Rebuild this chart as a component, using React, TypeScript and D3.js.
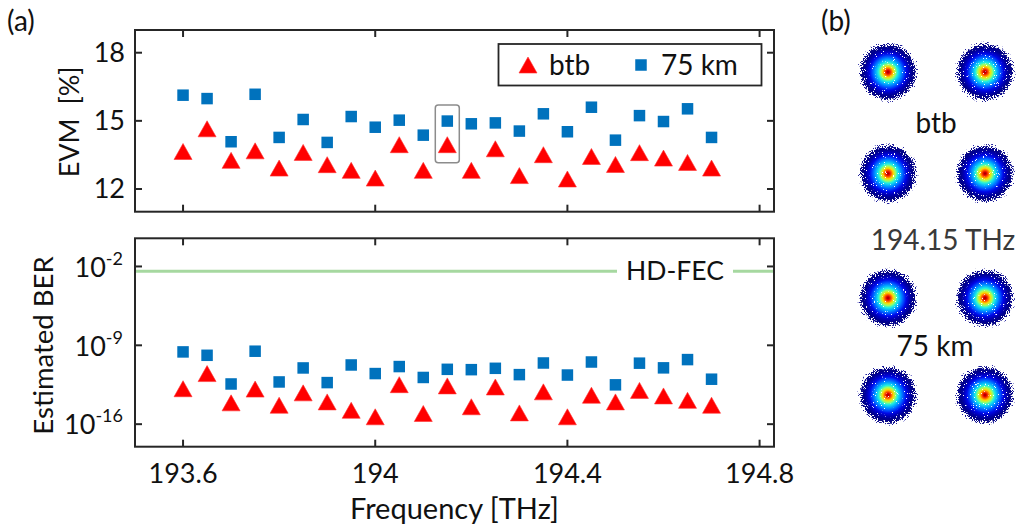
import React from "react";
import * as d3 from "d3";

// Channel frequencies [THz]
const freqs = [
  193.6, 193.65, 193.7, 193.75, 193.8, 193.85, 193.9, 193.95, 194.0, 194.05, 194.1, 194.15,
  194.2, 194.25, 194.3, 194.35, 194.4, 194.45, 194.5, 194.55, 194.6, 194.65, 194.7,
];

// EVM [%]
const evmBtb = [
  13.65, 14.65, 13.26, 13.68, 12.92, 13.61, 13.07, 12.82, 12.48, 13.95, 12.82, 13.95,
  12.82, 13.77, 12.59, 13.51, 12.44, 13.43, 13.08, 13.6, 13.36, 13.17, 12.92,
];
const evm75 = [
  16.13, 15.98, 14.08, 16.17, 14.27, 15.06, 14.05, 15.19, 14.72, 15.03, 14.37, 14.99,
  14.87, 14.91, 14.55, 15.31, 14.52, 15.6, 14.15, 15.23, 14.97, 15.53, 14.27,
];

// Estimated BER
const berBtb = [
  1.4e-13, 3.1e-12, 7.8e-15, 1.3e-13, 4.8e-15, 6.0e-14, 9.5e-15, 1.7e-15, 4.5e-16, 3.2e-13,
  8.9e-16, 2.5e-13, 3.5e-15, 2.0e-13, 1.0e-15, 7.4e-14, 4.5e-16, 3.7e-14, 9.5e-15, 1.0e-13,
  3.2e-14, 1.3e-14, 4.8e-15,
];
const ber75 = [
  2.6e-10, 1.3e-10, 3.7e-13, 3.0e-10, 5.6e-13, 9.8e-12, 4.9e-13, 1.8e-11, 3.1e-12, 1.3e-11,
  1.4e-12, 7.4e-12, 6.9e-12, 9.1e-12, 2.5e-12, 2.7e-11, 2.3e-12, 3.3e-11, 3.1e-13, 2.6e-11,
  1.0e-11, 5.4e-11, 9.8e-13,
];

const hdFec = 3.8e-3;
const highlightFreq = 194.15;

// Axis ticks
const xTicks = [193.6, 194.0, 194.4, 194.8];
const xTickLabels = ["193.6", "194", "194.4", "194.8"];
const evmTicks = [12, 15, 18];
const berTickExps = [-2, -9, -16];

// QPSK symbol positions (I, Q)
const qpsk: [number, number][] = [
  [-1, 1],
  [1, 1],
  [-1, -1],
  [1, -1],
];

const FONT = "Lato, 'Open Sans', sans-serif";
const RED = "#ff0000";
const BLUE = "#0072bd";
const AX = "#262626";
const TXT = "#111";

const x = d3.scaleLinear().domain([193.5, 194.83]).range([135, 774]);
const yEvm = d3.scaleLinear().domain([11, 19]).range([211.7, 30]);
const yBer = d3.scaleLog().domain([1e-18, Math.pow(10, 0.5)]).range([446.7, 238.3]);

const TICK = 7;

function Triangle({ cx, cy }: { cx: number; cy: number }) {
  const w = 18;
  const h = 16;
  return (
    <path
      d={`M${cx},${cy - h / 2} L${cx + w / 2},${cy + h / 2} L${cx - w / 2},${cy + h / 2} Z`}
      fill={RED}
      stroke="#ff3030"
      strokeWidth={0.6}
    />
  );
}

function Square({ cx, cy }: { cx: number; cy: number }) {
  const s = 11.5;
  return <rect x={cx - s / 2} y={cy - s / 2} width={s} height={s} fill={BLUE} />;
}

function Frame({ top, bottom, yTicks }: { top: number; bottom: number; yTicks: number[] }) {
  const [x0, x1] = x.range();
  return (
    <g stroke={AX} strokeWidth={2} fill="none">
      <rect x={x0} y={top} width={x1 - x0} height={bottom - top} />
      {xTicks.map((t) => (
        <g key={t}>
          <line x1={x(t)} x2={x(t)} y1={bottom} y2={bottom - TICK} />
          <line x1={x(t)} x2={x(t)} y1={top} y2={top + TICK} />
        </g>
      ))}
      {yTicks.map((yy, i) => (
        <g key={i}>
          <line x1={x0} x2={x0 + TICK} y1={yy} y2={yy} />
          <line x1={x1} x2={x1 - TICK} y1={yy} y2={yy} />
        </g>
      ))}
    </g>
  );
}

function Blob({ cx, cy }: { cx: number; cy: number }) {
  return <circle cx={cx} cy={cy} r={31} fill="url(#jet)" filter="url(#grain)" />;
}

export default function App() {
  const [x0, x1] = x.range();
  const evmTop = yEvm.range()[1];
  const evmBottom = yEvm.range()[0];
  const berTop = yBer.range()[1];
  const berBottom = yBer.range()[0];

  // Constellation placement for the two cases
  const ci = d3.scaleLinear().domain([-1, 1]).range([888, 985]);
  const cqBtb = d3.scaleLinear().domain([-1, 1]).range([173.5, 72]);
  const cq75 = d3.scaleLinear().domain([-1, 1]).range([395, 298]);

  const hlX = x(highlightFreq);
  const hlIdx = freqs.indexOf(highlightFreq);
  const fecY = yBer(hdFec);

  return (
    <svg
      width={1018}
      height={529}
      style={{ position: "absolute", left: 0, top: 0, background: "#fff" }}
      fontFamily={FONT}
    >
      <defs>
        <radialGradient id="jet" cx="50%" cy="50%" r="50%">
          <stop offset="0" stopColor="#900000" stopOpacity={1} />
          <stop offset="0.05" stopColor="#e00000" stopOpacity={1} />
          <stop offset="0.11" stopColor="#ff6000" stopOpacity={1} />
          <stop offset="0.17" stopColor="#ffd800" stopOpacity={1} />
          <stop offset="0.24" stopColor="#a0ff60" stopOpacity={1} />
          <stop offset="0.31" stopColor="#20f0e0" stopOpacity={1} />
          <stop offset="0.4" stopColor="#00a8ff" stopOpacity={1} />
          <stop offset="0.5" stopColor="#0050ff" stopOpacity={1} />
          <stop offset="0.59" stopColor="#0008e8" stopOpacity={1} />
          <stop offset="0.68" stopColor="#0000b8" stopOpacity={1} />
          <stop offset="0.78" stopColor="#00008c" stopOpacity={0.95} />
          <stop offset="0.87" stopColor="#080888" stopOpacity={0.6} />
          <stop offset="0.94" stopColor="#202098" stopOpacity={0.25} />
          <stop offset="1" stopColor="#3030b0" stopOpacity={0.03} />
        </radialGradient>
        <filter id="grain" x="-10%" y="-10%" width="120%" height="120%" colorInterpolationFilters="sRGB">
          <feTurbulence type="fractalNoise" baseFrequency="0.9" numOctaves={2} seed={7} result="noise" />
          <feColorMatrix
            in="noise"
            type="matrix"
            values="0 0 0 0 0  0 0 0 0 0  0 0 0 0 0  2.2 0 0 0 -0.6"
            result="na"
          />
          <feComposite in="SourceAlpha" in2="na" operator="arithmetic" k1={0} k2={10} k3={-10} k4={0} result="mask" />
          <feColorMatrix
            in="SourceGraphic"
            type="matrix"
            values="1 0 0 0 0  0 1 0 0 0  0 0 1 0 0  0 0 0 60 0"
            result="opaque"
          />
          <feComposite in="opaque" in2="mask" operator="in" />
        </filter>
      </defs>

      {/* Panel labels */}
      <text x={7} y={31} fontSize={28} fill={TXT}>(a)</text>
      <text x={821} y={31} fontSize={28} fill={TXT}>(b)</text>

      {/* ---------- EVM panel ---------- */}
      <Frame top={evmTop} bottom={evmBottom} yTicks={evmTicks.map((t) => yEvm(t))} />
      {evmTicks.map((t) => (
        <text key={t} x={125} y={yEvm(t)} dy="0.35em" textAnchor="end" fontSize={27} fill={TXT}>
          {t}
        </text>
      ))}
      <text
        transform={`translate(79,${(evmTop + evmBottom) / 2 + 1}) rotate(-90)`}
        textAnchor="middle"
        fontSize={27}
        fill={TXT}
        style={{ whiteSpace: "pre" }}
      >
        {"EVM  [%]"}
      </text>

      {/* highlighted channel */}
      <rect
        x={hlX - 12}
        y={yEvm(evm75[hlIdx]) - 16}
        width={24}
        height={yEvm(evmBtb[hlIdx]) - yEvm(evm75[hlIdx]) + 34}
        rx={3}
        fill="none"
        stroke="#8c8c8c"
        strokeWidth={1.5}
      />

      {freqs.map((f, i) => (
        <Square key={`s${i}`} cx={x(f)} cy={yEvm(evm75[i])} />
      ))}
      {freqs.map((f, i) => (
        <Triangle key={`t${i}`} cx={x(f)} cy={yEvm(evmBtb[i])} />
      ))}

      {/* legend */}
      <rect x={498.5} y={44} width={263} height={41.5} fill="#fff" stroke={AX} strokeWidth={1.8} />
      <Triangle cx={528} cy={65} />
      <text x={549} y={65} dy="0.35em" fontSize={28} fill={TXT}>btb</text>
      <Square cx={641} cy={65} />
      <text x={661} y={65} dy="0.35em" fontSize={28} fill={TXT}>75 km</text>

      {/* ---------- BER panel ---------- */}
      <Frame top={berTop} bottom={berBottom} yTicks={berTickExps.map((e) => yBer(Math.pow(10, e)))} />
      {berTickExps.map((e) => (
        <text
          key={e}
          x={123}
          y={yBer(Math.pow(10, e))}
          dy="0.38em"
          textAnchor="end"
          fontSize={27}
          fill={TXT}
        >
          10
          <tspan dy={-12} fontSize={18}>
            {e}
          </tspan>
        </text>
      ))}
      <text
        transform={`translate(53,${(berTop + berBottom) / 2 + 3}) rotate(-90)`}
        textAnchor="middle"
        fontSize={27.5}
        fill={TXT}
      >
        Estimated BER
      </text>

      {/* HD-FEC threshold */}
      <line x1={x0 + 1} x2={617} y1={fecY} y2={fecY} stroke="#a6d8a0" strokeWidth={3} />
      <line x1={733} x2={x1 - 1} y1={fecY} y2={fecY} stroke="#a6d8a0" strokeWidth={3} />
      <text x={675} y={fecY} dy="0.35em" textAnchor="middle" fontSize={26.5} fill={TXT}>
        HD-FEC
      </text>

      {freqs.map((f, i) => (
        <Square key={`bs${i}`} cx={x(f)} cy={yBer(ber75[i])} />
      ))}
      {freqs.map((f, i) => (
        <Triangle key={`bt${i}`} cx={x(f)} cy={yBer(berBtb[i])} />
      ))}

      {/* x axis */}
      {xTicks.map((t, i) => (
        <text key={t} x={x(t)} y={474} dy="0.35em" textAnchor="middle" fontSize={27} fill={TXT}>
          {xTickLabels[i]}
        </text>
      ))}
      <text x={(x0 + x1) / 2} y={509} dy="0.35em" textAnchor="middle" fontSize={29} fill={TXT}>
        Frequency [THz]
      </text>

      {/* ---------- constellations ---------- */}
      {qpsk.map(([i, q], k) => (
        <Blob key={`cb${k}`} cx={ci(i)} cy={cqBtb(q)} />
      ))}
      <text x={936} y={(cqBtb(1) + cqBtb(-1)) / 2} dy="0.35em" textAnchor="middle" fontSize={28} fill={TXT}>
        btb
      </text>
      <text x={943} y={240} dy="0.35em" textAnchor="middle" fontSize={28} fill="#3a3a3a">
        194.15 THz
      </text>
      {qpsk.map(([i, q], k) => (
        <Blob key={`c7${k}`} cx={ci(i)} cy={cq75(q)} />
      ))}
      <text x={935} y={(cq75(1) + cq75(-1)) / 2} dy="0.35em" textAnchor="middle" fontSize={28} fill={TXT}>
        75 km
      </text>
    </svg>
  );
}
